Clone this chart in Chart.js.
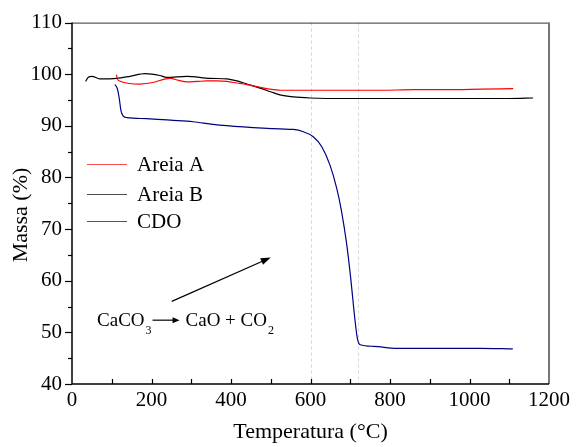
<!DOCTYPE html>
<html>
<head>
<meta charset="utf-8">
<script src="https://cdn.jsdelivr.net/npm/chart.js@4"></script>
<style>
  html, body { margin: 0; padding: 0; background: #fff; }
  #wrap { width: 576px; height: 447px; }
</style>
</head>
<body>
<div id="wrap"><canvas id="chart" width="576" height="447"></canvas></div>
<script>
// Areia A (red)
const tempA = [112, 114, 121, 145, 171, 195, 213, 230, 247, 268, 289, 315, 339, 365, 389, 415, 440, 465, 490, 510, 523, 600, 700, 775, 860, 943, 1030, 1110];
const massA = [99.9, 99.1, 98.65, 98.2, 98.1, 98.3, 98.6, 99.0, 99.2, 98.8, 98.5, 98.6, 98.7, 98.7, 98.6, 98.3, 98.0, 97.6, 97.2, 97.0, 96.9, 96.9, 96.9, 96.9, 97.0, 97.0, 97.1, 97.2];

// Areia B (black)
const tempB = [34, 41, 50, 70, 112, 146, 184, 221, 238, 289, 347, 389, 415, 440, 473, 500, 523, 557, 599, 700, 800, 900, 1000, 1100, 1160];
const massB = [98.6, 99.4, 99.6, 99.1, 99.2, 99.6, 100.1, 99.75, 99.4, 99.6, 99.2, 99.1, 98.7, 98.1, 97.3, 96.6, 96.0, 95.6, 95.4, 95.3, 95.3, 95.3, 95.3, 95.3, 95.4];

// CDO (navy)
const tempC = [108, 114, 119, 123, 129, 138, 188, 247, 305, 355, 431, 523, 557, 582, 607, 628, 649, 666, 678, 691, 701, 712, 718, 725, 758, 817, 900, 1026, 1109];
const massC = [98.0, 97.2, 95.25, 93.0, 91.9, 91.6, 91.4, 91.1, 90.8, 90.3, 89.8, 89.4, 89.3, 88.85, 87.9, 86.0, 82.4, 77.9, 73.5, 67.1, 60.6, 52.3, 48.8, 47.6, 47.3, 46.9, 46.9, 46.9, 46.8];

const seriesLabels = ['Areia A', 'Areia B', 'CDO'];
const seriesColors = ['#ff0000', '#000000', '#000080'];

const xTicks = [0, 200, 400, 600, 800, 1000, 1200];
const yTicks = [40, 50, 60, 70, 80, 90, 100, 110];
const refLines = [600, 720];   // dashed vertical markers

const serif = '"Liberation Serif", "Times New Roman", serif';

function zip(xs, ys) {
  return xs.map((x, i) => ({ x: x, y: ys[i] }));
}

function makeSet(i, xs, ys) {
  return {
    label: seriesLabels[i],
    data: zip(xs, ys),
    borderColor: seriesColors[i],
    borderWidth: 1.2,
    pointRadius: 0,
    cubicInterpolationMode: 'monotone',
    tension: 0.4,
    fill: false
  };
}

// frame, ticks, legend and annotation like the original plot
const decorPlugin = {
  id: 'decor',
  beforeDatasetsDraw(chart) {
    const { ctx, chartArea: a, scales: { x } } = chart;
    ctx.save();
    ctx.strokeStyle = '#d6d6d6';
    ctx.lineWidth = 1;
    ctx.setLineDash([3, 3]);
    refLines.forEach(v => {
      const px = Math.round(x.getPixelForValue(v)) + 0.5;
      ctx.beginPath();
      ctx.moveTo(px, a.top);
      ctx.lineTo(px, a.bottom);
      ctx.stroke();
    });
    ctx.restore();
  },
  afterDatasetsDraw(chart) {
    const { ctx, chartArea: a, scales: { x, y } } = chart;
    ctx.save();

    // frame
    ctx.strokeStyle = '#333';
    ctx.lineWidth = 1;
    ctx.beginPath();
    ctx.moveTo(a.left, a.top + 0.5);
    ctx.lineTo(a.right, a.top + 0.5);
    ctx.stroke();
    ctx.strokeStyle = '#777';
    ctx.lineWidth = 2;
    ctx.beginPath();
    ctx.moveTo(a.right, a.top);
    ctx.lineTo(a.right, a.bottom);
    ctx.stroke();
    ctx.strokeStyle = '#000';
    ctx.lineWidth = 1.5;
    ctx.beginPath();
    ctx.moveTo(a.left, a.top);
    ctx.lineTo(a.left, a.bottom);
    ctx.lineTo(a.right, a.bottom);
    ctx.stroke();

    // x ticks (inward), every 100
    ctx.lineWidth = 1.2;
    for (let v = 100; v < 1200; v += 100) {
      const px = Math.round(x.getPixelForValue(v)) + 0.5;
      ctx.beginPath();
      ctx.moveTo(px, a.bottom);
      ctx.lineTo(px, a.bottom - 5);
      ctx.stroke();
    }
    // y ticks (outward), major 10 / minor 5
    for (let v = 40; v <= 110; v += 5) {
      const py = Math.round(y.getPixelForValue(v)) + 0.5;
      const len = v % 10 === 0 ? 7 : 4;
      ctx.beginPath();
      ctx.moveTo(a.left, py);
      ctx.lineTo(a.left - len, py);
      ctx.stroke();
    }

    // y title
    ctx.fillStyle = '#000';
    ctx.font = '22px ' + serif;
    ctx.textAlign = 'center';
    ctx.textBaseline = 'middle';
    ctx.translate(21, 215);
    ctx.rotate(-Math.PI / 2);
    ctx.fillText('Massa (%)', 0, 0);
    ctx.setTransform(1, 0, 0, 1, 0, 0);

    // legend
    const legY = [164, 194, 221];
    ctx.font = '21px ' + serif;
    ctx.textAlign = 'left';
    ctx.textBaseline = 'middle';
    chart.data.datasets.forEach((ds, i) => {
      ctx.strokeStyle = ds.borderColor;
      ctx.globalAlpha = 0.7;
      ctx.lineWidth = 1.2;
      ctx.beginPath();
      ctx.moveTo(a.left + 15, legY[i] + 0.5);
      ctx.lineTo(a.left + 55, legY[i] + 0.5);
      ctx.stroke();
      ctx.globalAlpha = 1;
      ctx.fillStyle = '#000';
      ctx.fillText(ds.label, a.left + 65, legY[i] + 1);
    });

    // reaction arrow
    const ax0 = x.getPixelForValue(251), ay0 = y.getPixelForValue(56.0);
    const ax1 = x.getPixelForValue(500), ay1 = y.getPixelForValue(64.5);
    drawArrow(ctx, ax0, ay0, ax1, ay1, 10, 3.5);

    // CaCO3 -> CaO + CO2
    let tx = x.getPixelForValue(63);
    const base = y.getPixelForValue(51.2);
    ctx.textBaseline = 'alphabetic';
    ctx.fillStyle = '#000';
    const big = '19px ' + serif, sub = '12px ' + serif;
    ctx.font = big;
    ctx.fillText('CaCO', tx, base);
    tx += ctx.measureText('CaCO').width + 1;
    ctx.font = sub;
    ctx.fillText('3', tx, base + 8);
    tx += ctx.measureText('3').width + 1;
    drawArrow(ctx, tx, base - 6, tx + 27, base - 6, 7, 3);
    tx += 33;
    ctx.font = big;
    ctx.fillText('CaO + CO', tx, base);
    tx += ctx.measureText('CaO + CO').width + 1;
    ctx.font = sub;
    ctx.fillText('2', tx, base + 8);

    ctx.restore();
  }
};

function drawArrow(ctx, x0, y0, x1, y1, head, half) {
  const ang = Math.atan2(y1 - y0, x1 - x0);
  ctx.strokeStyle = '#000';
  ctx.fillStyle = '#000';
  ctx.lineWidth = 1.2;
  ctx.beginPath();
  ctx.moveTo(x0, y0);
  ctx.lineTo(x1 - head * 0.6 * Math.cos(ang), y1 - head * 0.6 * Math.sin(ang));
  ctx.stroke();
  ctx.beginPath();
  ctx.moveTo(x1, y1);
  ctx.lineTo(x1 - head * Math.cos(ang) + half * Math.sin(ang), y1 - head * Math.sin(ang) - half * Math.cos(ang));
  ctx.lineTo(x1 - head * Math.cos(ang) - half * Math.sin(ang), y1 - head * Math.sin(ang) + half * Math.cos(ang));
  ctx.closePath();
  ctx.fill();
}

new Chart(document.getElementById('chart'), {
  type: 'line',
  data: {
    datasets: [
      makeSet(0, tempA, massA),
      makeSet(1, tempB, massB),
      makeSet(2, tempC, massC)
    ]
  },
  options: {
    responsive: false,
    devicePixelRatio: 1,
    animation: false,
    layout: { padding: { top: 20, right: 27, left: 0, bottom: 0 } },
    plugins: {
      legend: { display: false },
      tooltip: { enabled: false }
    },
    scales: {
      x: {
        type: 'linear',
        min: 0,
        max: 1200,
        afterBuildTicks: s => { s.ticks = xTicks.map(v => ({ value: v })); },
        afterFit: s => { s.height = 63; },
        ticks: {
          color: '#000',
          font: { family: serif, size: 21 },
          padding: 4,
          maxRotation: 0,
          callback: v => String(v)
        },
        grid: { display: false, drawTicks: false },
        border: { display: false },
        title: {
          display: true,
          text: 'Temperatura (°C)',
          color: '#000',
          font: { family: serif, size: 22 },
          padding: { top: 0, bottom: 2 }
        }
      },
      y: {
        type: 'linear',
        min: 40,
        max: 110,
        afterBuildTicks: s => { s.ticks = yTicks.map(v => ({ value: v })); },
        afterFit: s => { s.width = 72; },
        ticks: {
          color: '#000',
          font: { family: serif, size: 21 },
          padding: 10,
          callback: v => String(v)
        },
        grid: { display: false, drawTicks: false },
        border: { display: false }
      }
    }
  },
  plugins: [decorPlugin]
});
</script>
</body>
</html>
